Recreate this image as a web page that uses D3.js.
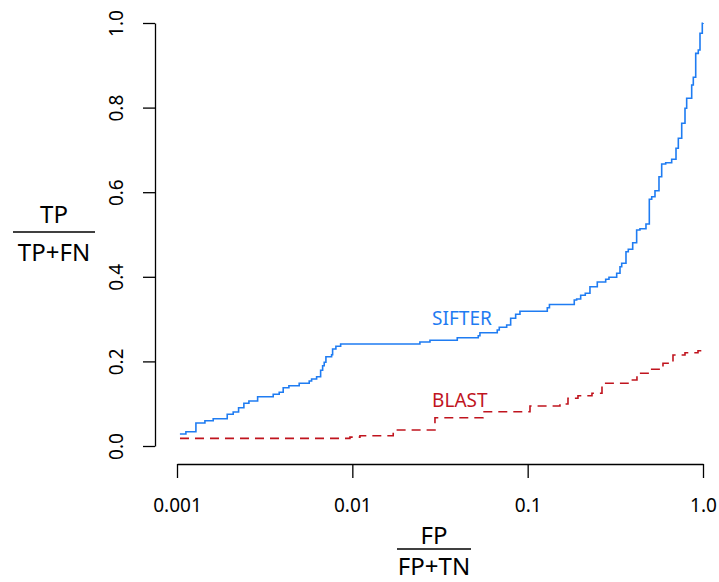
<!DOCTYPE html>
<html>
<head>
<meta charset="utf-8">
<script src="https://cdn.jsdelivr.net/npm/d3@7/dist/d3.min.js"></script>
<style>
  html, body { margin: 0; padding: 0; background: #fff; }
  svg { display: block; }
  text { font-family: "Noto Sans", "Open Sans", sans-serif; }
</style>
</head>
<body>
<svg id="chart" width="719" height="582"></svg>
<script>
// ---- data ----
const xTicks = [0.001, 0.01, 0.1, 1];
const xTickLabels = ["0.001", "0.01", "0.1", "1.0"];
const yTicks = [0, 0.2, 0.4, 0.6, 0.8, 1.0];
const yTickLabels = ["0.0", "0.2", "0.4", "0.6", "0.8", "1.0"];

// SIFTER: false positive rate (x) and true positive rate (y), step curve
const sifterFPR = [0.001039, 0.001124, 0.001282, 0.001443, 0.001609, 0.001934, 0.002092, 0.002245,
  0.002407, 0.002571, 0.002883, 0.003538, 0.003828, 0.004034, 0.004347, 0.004977, 0.005677,
  0.005858, 0.006256, 0.006594, 0.006770, 0.006913, 0.007069, 0.007617, 0.007718, 0.008059,
  0.008577, 0.02429, 0.02772, 0.03967, 0.05227, 0.05343, 0.06708, 0.06887, 0.07591, 0.07998,
  0.08541, 0.09038, 0.1294, 0.1331, 0.1844, 0.1903, 0.2006, 0.2131, 0.2266, 0.2495, 0.2786,
  0.2909, 0.3219, 0.3362, 0.3438, 0.3637, 0.3749, 0.3972, 0.4184, 0.437, 0.4729, 0.4941,
  0.5099, 0.5323, 0.561, 0.5813, 0.6126, 0.6628, 0.7015, 0.7232, 0.7561, 0.7895, 0.807,
  0.862, 0.8805, 0.9087, 0.9401, 0.9614, 0.9908, 1.0];
const sifterTPR = [0.0284, 0.0338, 0.0544, 0.0598, 0.0645, 0.0749, 0.0804, 0.0905,
  0.101, 0.1064, 0.1166, 0.1222, 0.127, 0.1378, 0.1426, 0.1482, 0.1537,
  0.1584, 0.1638, 0.179, 0.1898, 0.1979, 0.2111, 0.2158, 0.2293, 0.2357,
  0.2411, 0.2459, 0.2499, 0.256, 0.2608, 0.2678, 0.2742, 0.2806, 0.286, 0.3019,
  0.3113, 0.3184, 0.327, 0.3345, 0.3452, 0.3475, 0.3563, 0.361, 0.3766, 0.3877, 0.3941,
  0.3988, 0.4083, 0.4239, 0.4319, 0.4593, 0.465, 0.4806, 0.5106, 0.5137, 0.5248, 0.5832,
  0.5894, 0.6035, 0.6366, 0.6667, 0.6697, 0.6778, 0.7038, 0.7274, 0.7629, 0.7983, 0.822,
  0.8534, 0.8716, 0.9283, 0.9362, 0.9757, 0.9993, 1.0];

// BLAST
const blastFPR = [0.00104, 0.006533, 0.00969, 0.01105, 0.01690, 0.01711, 0.02834, 0.02960,
  0.05559, 0.1031, 0.1480, 0.1528, 0.1698, 0.1936, 0.2327, 0.2654, 0.3734, 0.4201,
  0.4984, 0.5912, 0.6743, 0.7895, 0.9364, 1.0];
const blastTPR = [0.018, 0.018, 0.021, 0.0243, 0.0243, 0.0378, 0.0378, 0.0669,
  0.0811, 0.0946, 0.0946, 0.0993, 0.1128, 0.1189, 0.1246, 0.1482, 0.156, 0.1719,
  0.1813, 0.1955, 0.2151, 0.2206, 0.2253, 0.227];

const seriesNames = ["SIFTER", "BLAST"];
const seriesColors = ["#1f7cf2", "#c0141e"];

// ---- drawing ----
const svg = d3.select("#chart");
const x = d3.scaleLog().domain([0.001, 1]).range([177, 703]);
const y = d3.scaleLinear().domain([0, 1]).range([446, 23]);

// x axis
const xAxis = d3.axisBottom(x)
  .tickValues(xTicks)
  .tickFormat((d, i) => xTickLabels[i])
  .tickSizeInner(14).tickSizeOuter(0).tickPadding(21);
const gx = svg.append("g").attr("transform", "translate(0,464)").call(xAxis);
gx.selectAll("text").attr("font-size", 19).attr("fill", "#000")
  .style("font-family", '"Noto Sans", sans-serif');
gx.select(".domain").attr("stroke", "#000").attr("stroke-width", 1.3);
gx.selectAll(".tick line").attr("stroke", "#000").attr("stroke-width", 1.3);

// y axis
const yAxis = d3.axisLeft(y)
  .tickValues(yTicks)
  .tickFormat((d, i) => yTickLabels[i])
  .tickSizeInner(12).tickSizeOuter(0);
const gy = svg.append("g").attr("transform", "translate(155,0)").call(yAxis);
gy.select(".domain").attr("stroke", "#000").attr("stroke-width", 1.3);
gy.selectAll(".tick line").attr("stroke", "#000").attr("stroke-width", 1.3);
gy.selectAll(".tick text")
  .attr("x", null).attr("dy", null)
  .attr("transform", "translate(-32,0) rotate(-90)")
  .attr("text-anchor", "middle")
  .attr("font-size", 19).attr("fill", "#000")
  .style("font-family", '"Noto Sans", sans-serif');

// lines
const sifter = sifterFPR.map((v, i) => [v, sifterTPR[i]]);
const blast = blastFPR.map((v, i) => [v, blastTPR[i]]);

svg.append("path").datum(sifter)
  .attr("fill", "none").attr("stroke", seriesColors[0]).attr("stroke-width", 1.6)
  .attr("d", d3.line().x(d => x(d[0])).y(d => y(d[1])).curve(d3.curveStepAfter));

svg.append("path").datum(blast)
  .attr("fill", "none").attr("stroke", seriesColors[1]).attr("stroke-width", 1.6)
  .attr("stroke-dasharray", "9,6")
  .attr("d", d3.line().x(d => x(d[0])).y(d => y(d[1])).curve(d3.curveStepAfter));

// series labels
svg.append("text").attr("x", x(0.0285)).attr("y", y(0.287))
  .attr("font-size", 19).attr("fill", seriesColors[0]).text(seriesNames[0]);
svg.append("text").attr("x", x(0.0285)).attr("y", y(0.093))
  .attr("font-size", 19).attr("fill", seriesColors[1]).text(seriesNames[1]);

// axis titles as fractions
function fraction(cx, numY, lineY, denY, num, den, lineW) {
  const g = svg.append("g");
  g.append("text").attr("x", cx).attr("y", numY).attr("text-anchor", "middle")
    .attr("font-size", 24).attr("fill", "#000").text(num);
  g.append("line").attr("x1", cx - lineW / 2).attr("x2", cx + lineW / 2)
    .attr("y1", lineY).attr("y2", lineY).attr("stroke", "#000").attr("stroke-width", 1.6);
  g.append("text").attr("x", cx).attr("y", denY).attr("text-anchor", "middle")
    .attr("font-size", 24).attr("fill", "#000").text(den);
}
fraction(54, 223, 232, 261, "TP", "TP+FN", 82);
fraction(434, 544, 549, 575, "FP", "FP+TN", 74);
</script>
</body>
</html>
